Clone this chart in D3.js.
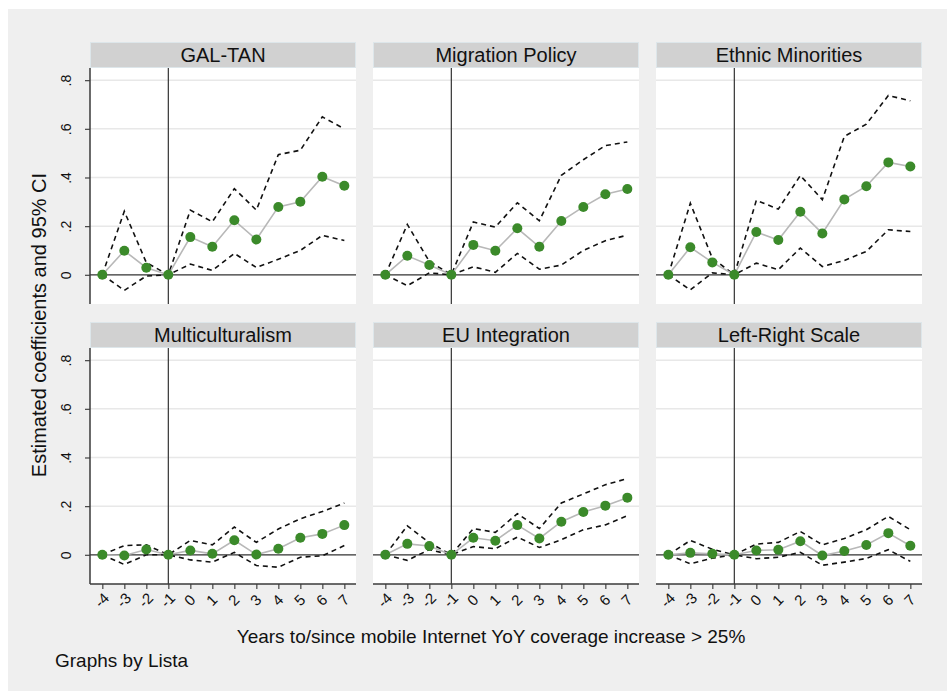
<!DOCTYPE html>
<html>
<head>
<meta charset="utf-8">
<script src="https://cdn.jsdelivr.net/npm/d3@7"></script>
<style>
  body { margin: 0; background: #fff; }
  svg { display: block; font-family: "Liberation Sans", Arial, sans-serif; }
</style>
</head>
<body>
<svg id="chart" width="947" height="691"></svg>
<script>
// event-time on the x axis
const years = [-4, -3, -2, -1, 0, 1, 2, 3, 4, 5, 6, 7];
const yTicks = [0, 0.2, 0.4, 0.6, 0.8];
const yTickLabels = ["0", ".2", ".4", ".6", ".8"];
const panelTitles = ["GAL-TAN", "Migration Policy", "Ethnic Minorities",
                     "Multiculturalism", "EU Integration", "Left-Right Scale"];

// point estimates and 95% CI bounds, one set per panel
const galtanCoef  = [0, 0.099, 0.029, 0, 0.155, 0.115, 0.224, 0.145, 0.279, 0.300, 0.403, 0.366];
const galtanUpper = [0, 0.261, 0.050, 0, 0.266, 0.218, 0.354, 0.266, 0.494, 0.512, 0.649, 0.600];
const galtanLower = [0, -0.064, -0.005, 0, 0.044, 0.018, 0.088, 0.030, 0.064, 0.100, 0.162, 0.141];

const migrationCoef  = [0, 0.078, 0.040, 0, 0.123, 0.099, 0.191, 0.115, 0.221, 0.279, 0.331, 0.353];
const migrationUpper = [0, 0.207, 0.055, 0, 0.217, 0.196, 0.296, 0.222, 0.409, 0.473, 0.531, 0.546];
const migrationLower = [0, -0.045, 0.008, 0, 0.033, 0.010, 0.088, 0.023, 0.040, 0.100, 0.140, 0.163];

const ethnicCoef  = [0, 0.113, 0.051, 0, 0.176, 0.143, 0.259, 0.170, 0.310, 0.364, 0.462, 0.445];
const ethnicUpper = [0, 0.294, 0.068, 0, 0.306, 0.270, 0.408, 0.309, 0.569, 0.619, 0.737, 0.715];
const ethnicLower = [0, -0.062, 0.008, 0, 0.048, 0.021, 0.110, 0.034, 0.059, 0.096, 0.185, 0.178];

const multiCoef  = [0, -0.003, 0.022, 0, 0.018, 0.004, 0.060, 0.001, 0.025, 0.070, 0.086, 0.122];
const multiUpper = [0, 0.038, 0.041, 0, 0.059, 0.041, 0.114, 0.051, 0.106, 0.148, 0.178, 0.213];
const multiLower = [0, -0.040, 0.000, 0, -0.021, -0.030, 0.010, -0.044, -0.051, -0.010, -0.004, 0.038];

const euCoef  = [0, 0.045, 0.036, 0, 0.070, 0.058, 0.122, 0.067, 0.136, 0.176, 0.202, 0.235];
const euUpper = [0, 0.119, 0.050, 0, 0.108, 0.092, 0.169, 0.108, 0.213, 0.250, 0.288, 0.313];
const euLower = [0, -0.023, 0.021, 0, 0.034, 0.025, 0.073, 0.030, 0.062, 0.103, 0.123, 0.161];

const lrCoef  = [0, 0.008, 0.004, 0, 0.018, 0.021, 0.056, -0.003, 0.016, 0.040, 0.089, 0.037];
const lrUpper = [0, 0.059, 0.023, 0, 0.044, 0.051, 0.096, 0.041, 0.067, 0.103, 0.158, 0.103];
const lrLower = [0, -0.037, -0.014, 0, -0.016, -0.010, 0.010, -0.043, -0.030, -0.015, 0.021, -0.027];

const panelData = [
  [galtanCoef, galtanUpper, galtanLower],
  [migrationCoef, migrationUpper, migrationLower],
  [ethnicCoef, ethnicUpper, ethnicLower],
  [multiCoef, multiUpper, multiLower],
  [euCoef, euUpper, euLower],
  [lrCoef, lrUpper, lrLower]
];

const colX = [90, 373, 656];
const rowY = [42, 322];
const panelW = 266;
const headerH = 26;
const plotH = 236;

const svg = d3.select("#chart");

// stata-ish grey backdrop
svg.append("rect")
    .attr("x", 8).attr("y", 9)
    .attr("width", 939).attr("height", 682)
    .attr("fill", "#efefef");

const x = d3.scaleLinear().domain([-4.56, 7.53]).range([0, panelW]);
const y = d3.scaleLinear().domain([-0.12, 0.85]).range([plotH, 0]);

const line = d3.line().x((d, i) => x(years[i])).y(d => y(d));

panelTitles.forEach((title, p) => {
    const col = p % 3, row = Math.floor(p / 3);
    const [coef, upper, lower] = panelData[p];

    const g = svg.append("g")
        .attr("transform", `translate(${colX[col]},${rowY[row]})`);

    // header strip
    g.append("rect")
        .attr("x", 0.5).attr("y", 0.5)
        .attr("width", panelW - 1).attr("height", headerH - 1)
        .attr("fill", "#d1d1d1")
        .attr("stroke", "#dde6ea");
    g.append("text")
        .attr("x", panelW / 2).attr("y", 20)
        .attr("text-anchor", "middle")
        .attr("font-size", 20)
        .attr("fill", "#111")
        .text(title);

    const plot = g.append("g").attr("transform", `translate(0,${headerH})`);

    plot.append("rect")
        .attr("width", panelW).attr("height", plotH)
        .attr("fill", "#fff");

    plot.selectAll(".grid")
        .data(yTicks.slice(1))
        .enter().append("line")
            .attr("x1", 0).attr("x2", panelW)
            .attr("y1", d => y(d)).attr("y2", d => y(d))
            .attr("stroke", "#e8e8e8")
            .attr("stroke-width", 1.5);

    // reference lines at y = 0 and x = -1
    plot.append("line")
        .attr("x1", 0).attr("x2", panelW)
        .attr("y1", y(0)).attr("y2", y(0))
        .attr("stroke", "#333").attr("stroke-width", 1.2);
    plot.append("line")
        .attr("x1", x(-1)).attr("x2", x(-1))
        .attr("y1", 0).attr("y2", plotH)
        .attr("stroke", "#333").attr("stroke-width", 1.2);

    [upper, lower].forEach(ci => {
        plot.append("path")
            .attr("d", line(ci))
            .attr("fill", "none")
            .attr("stroke", "#111")
            .attr("stroke-width", 1.6)
            .attr("stroke-dasharray", "5,4");
    });

    plot.append("path")
        .attr("d", line(coef))
        .attr("fill", "none")
        .attr("stroke", "#b8b8b8")
        .attr("stroke-width", 1.6);

    plot.selectAll(".pt")
        .data(coef)
        .enter().append("circle")
            .attr("cx", (d, i) => x(years[i]))
            .attr("cy", d => y(d))
            .attr("r", 5)
            .attr("fill", "#3b8a2a");

    if (col === 0) {
        const ax = plot.append("g")
            .call(d3.axisLeft(y).tickValues(yTicks).tickSize(5)
                .tickFormat((d, i) => yTickLabels[i]));
        ax.select(".domain").remove();
        ax.append("line")
            .attr("x1", 0).attr("x2", 0)
            .attr("y1", 0).attr("y2", plotH)
            .attr("stroke", "#3a3a3a").attr("stroke-width", 1.5);
        ax.selectAll(".tick line").attr("stroke", "#444").attr("stroke-width", 1.2);
        ax.selectAll(".tick text")
            .attr("font-size", 14)
            .attr("fill", "#111")
            .attr("font-family", "Liberation Sans, Arial, sans-serif")
            .attr("text-anchor", "middle")
            .attr("x", 0).attr("dy", 0)
            .attr("transform", "translate(-19,0) rotate(-90)");
    }

    if (row === 1) {
        const ax = plot.append("g")
            .attr("transform", `translate(0,${plotH})`)
            .call(d3.axisBottom(x).tickValues(years).tickSize(5));
        ax.select(".domain").remove();
        ax.append("line")
            .attr("x1", 0).attr("x2", panelW)
            .attr("y1", 0).attr("y2", 0)
            .attr("stroke", "#3a3a3a").attr("stroke-width", 1.5);
        ax.selectAll(".tick line").attr("stroke", "#444").attr("stroke-width", 1.2);
        ax.selectAll(".tick text")
            .attr("font-size", 15)
            .attr("fill", "#111")
            .attr("font-family", "Liberation Sans, Arial, sans-serif")
            .attr("text-anchor", "middle")
            .attr("y", 0).attr("dy", "0.35em")
            .attr("transform", "translate(-1,16) rotate(-45)")
            .text(d => d);
    }
});

svg.append("text")
    .attr("transform", "translate(46,325) rotate(-90)")
    .attr("text-anchor", "middle")
    .attr("font-size", 20)
    .attr("fill", "#111")
    .text("Estimated coefficients and 95% CI");

svg.append("text")
    .attr("x", 491).attr("y", 643)
    .attr("text-anchor", "middle")
    .attr("font-size", 19)
    .attr("fill", "#111")
    .text("Years to/since mobile Internet YoY coverage increase > 25%");

svg.append("text")
    .attr("x", 55).attr("y", 667)
    .attr("font-size", 19)
    .attr("fill", "#111")
    .text("Graphs by Lista");
</script>
</body>
</html>
